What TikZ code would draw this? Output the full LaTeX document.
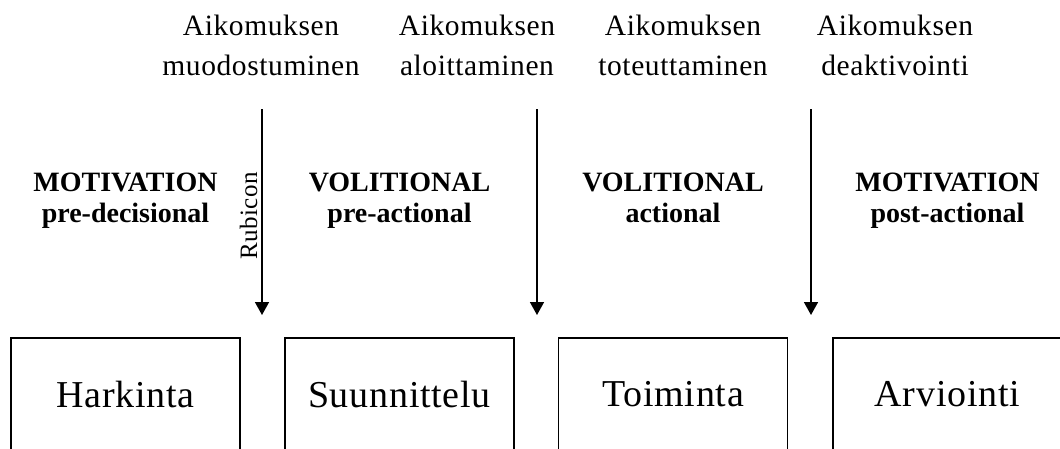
\documentclass[tikz,border=0pt]{standalone}
\usepackage{fontspec}
\setmainfont{Liberation Serif}
\newfontfamily\spacedfont[LetterSpace=2]{Liberation Serif}
\usetikzlibrary{arrows.meta}

\tikzset{
    phasebox/.style={draw, line width=1.5pt, minimum width=229pt, minimum height=112pt,
        inner sep=0pt, font=\spacedfont\fontsize{38}{42}\selectfont},
    eventlabel/.style={anchor=north, align=center, inner sep=0pt,
        font=\spacedfont\fontsize{29.5}{40}\selectfont},
    phaselabel/.style={anchor=north, align=center, inner sep=0pt,
        font=\fontsize{28}{31}\selectfont\bfseries},
    transition/.style={line width=1.6pt, -{Triangle[width=14pt,length=13pt]}}
}

\begin{document}
\begin{tikzpicture}[x=1pt, y=-1pt]
    \useasboundingbox (0,0) rectangle (1060,448);
    \clip (0,0) rectangle (1060,448);

    % Events above the arrows
    \node[eventlabel] (muodostuminen) at (261,15) {Aikomuksen\\muodostuminen};
    \node[eventlabel] (aloittaminen) at (477,15) {Aikomuksen\\aloittaminen};
    \node[eventlabel] (toteuttaminen) at (683,15) {Aikomuksen\\toteuttaminen};
    \node[eventlabel] (deaktivointi) at (895,15) {Aikomuksen\\deaktivointi};

    % Transition arrows
    \foreach \x/\n in {262/a, 537/b, 811/c} {
        \coordinate (start\n) at (\x,109);
        \coordinate (tip\n) at (\x,315);
        \draw[transition] (start\n) -- (tip\n);
    }

    \node[rotate=90, inner sep=0pt, font=\spacedfont\fontsize{25}{28}\selectfont]
        (rubicon) at (248.5,216) {Rubicon};

    % Phase names
    \node[phaselabel] (predecisional) at (125.5,173) {MOTIVATION\\pre-decisional};
    \node[phaselabel] (preactional) at (399.5,173) {VOLITIONAL\\pre-actional};
    \node[phaselabel] (actional) at (673,173) {VOLITIONAL\\actional};
    \node[phaselabel] (postactional) at (947.5,173) {MOTIVATION\\post-actional};

    % Phase boxes
    \node[phasebox] (harkinta) at (125.5,394) {Harkinta};
    \node[phasebox] (suunnittelu) at (399.5,394) {Suunnittelu};
    \node[phasebox] (toiminta) at (673,394) {Toiminta};
    \node[phasebox] (arviointi) at (947.5,394) {Arviointi};
\end{tikzpicture}
\end{document}
